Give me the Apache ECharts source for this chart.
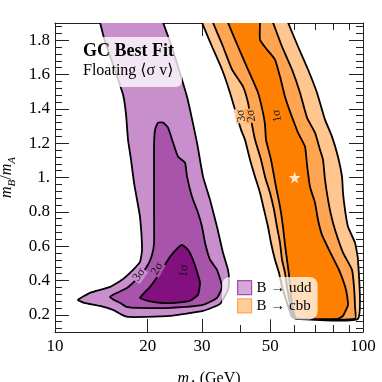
<!DOCTYPE html>
<html><head><meta charset="utf-8">
<script src="https://cdn.jsdelivr.net/npm/echarts@6/dist/echarts.min.js"></script>
<style>html,body{margin:0;padding:0;background:#fff}#c{width:382px;height:382px}</style>
</head><body><div id="c"></div>
<script>
// ---- tick labels ----
const xTickLabels = [10, 20, 30, 50, 100];
const xMajorTicks = [20, 30, 50];
const xMinorTicks = [40, 60, 70, 80, 90];
const yTickLabels = [0.2, 0.4, 0.6, 0.8, 1.0, 1.2, 1.4, 1.6, 1.8];
const yMinorTicks = [0.12,0.16,0.24,0.28,0.32,0.36,0.44,0.48,0.52,0.56,0.64,0.68,0.72,0.76,0.84,0.88,0.92,0.96,1.04,1.08,1.12,1.16,1.24,1.28,1.32,1.36,1.44,1.48,1.52,1.56,1.64,1.68,1.72,1.76,1.84,1.88];

// ---- contours: [m_A (GeV), m_B/m_A] ----
const udd3sigma = [[13.79,1.949],[14.00,1.903],[14.53,1.792],[15.43,1.658],[16.63,1.483],[17.01,1.366],[17.26,1.220],[17.65,1.104],[18.05,0.970],[18.46,0.871],[18.88,0.771],[19.17,0.579],[18.88,0.509],[17.92,0.462],[16.51,0.404],[15.09,0.363],[12.99,0.328],[11.88,0.287],[12.43,0.270],[14.00,0.252],[15.43,0.229],[16.51,0.200],[17.26,0.188],[19.60,0.188],[23.63,0.194],[30.24,0.223],[34.33,0.264],[36.45,0.346],[36.72,0.404],[36.45,0.462],[35.11,0.562],[33.57,0.713],[31.86,0.871],[30.24,1.005],[28.91,1.203],[27.44,1.395],[26.83,1.471],[25.84,1.570],[23.99,1.757],[22.43,1.903],[21.93,1.949]];
const udd2sigma = [[21.60,1.320],[21.13,1.279],[20.97,1.191],[20.97,1.005],[20.97,0.812],[20.97,0.620],[20.66,0.550],[20.04,0.492],[18.88,0.427],[17.13,0.357],[15.43,0.317],[15.09,0.305],[15.55,0.287],[16.26,0.270],[17.01,0.247],[18.88,0.241],[23.63,0.241],[30.24,0.258],[33.57,0.299],[34.85,0.363],[33.57,0.462],[31.86,0.521],[30.70,0.620],[30.02,0.713],[29.13,0.795],[27.85,0.888],[26.83,1.005],[26.43,1.086],[25.09,1.121],[24.17,1.203],[23.28,1.290],[22.43,1.320]];
const udd1sigma = [[25.84,0.608],[27.03,0.579],[28.06,0.521],[28.91,0.451],[29.57,0.387],[29.13,0.317],[27.44,0.282],[24.53,0.270],[21.93,0.270],[20.04,0.282],[18.88,0.299],[20.35,0.363],[21.93,0.445],[23.63,0.538],[25.09,0.591]];
const cbb3sigma = [[29.57,1.949],[30.02,1.903],[32.34,1.763],[34.85,1.629],[37.00,1.494],[38.99,1.355],[40.17,1.279],[41.39,1.220],[42.97,1.104],[44.61,1.005],[46.30,0.911],[47.71,0.812],[49.15,0.713],[50.26,0.620],[51.79,0.521],[53.36,0.445],[54.58,0.363],[56.66,0.270],[58.81,0.188],[60.60,0.177],[96.32,0.177],[96.32,0.521],[94.19,0.620],[89.39,0.713],[87.41,0.812],[86.11,0.911],[85.47,1.005],[82.94,1.121],[79.31,1.238],[75.27,1.337],[70.89,1.494],[66.29,1.629],[61.51,1.763],[57.08,1.903],[55.82,1.949]];
const cbb2sigma = [[32.10,1.949],[32.58,1.903],[35.11,1.763],[37.56,1.629],[40.78,1.529],[42.33,1.436],[43.29,1.337],[44.61,1.220],[46.65,1.104],[48.06,1.005],[49.89,0.911],[51.41,0.812],[52.57,0.713],[53.77,0.620],[54.58,0.521],[55.82,0.445],[56.66,0.363],[57.94,0.270],[59.26,0.188],[60.60,0.177],[94.19,0.177],[94.19,0.247],[93.49,0.363],[92.10,0.462],[86.11,0.562],[81.11,0.696],[78.72,0.783],[76.98,0.871],[75.27,0.987],[74.16,1.104],[72.51,1.162],[69.84,1.261],[65.79,1.349],[62.44,1.494],[58.81,1.629],[54.58,1.763],[51.02,1.903],[49.89,1.949]];
const cbb1sigma = [[35.91,1.949],[36.45,1.903],[39.28,1.763],[42.33,1.629],[45.62,1.494],[47.35,1.378],[48.06,1.308],[48.43,1.220],[50.26,1.104],[52.18,0.946],[53.77,0.830],[54.99,0.713],[55.82,0.608],[56.66,0.521],[57.51,0.433],[57.94,0.363],[58.81,0.270],[60.15,0.188],[61.05,0.177],[82.94,0.177],[86.11,0.194],[89.39,0.258],[88.07,0.346],[83.57,0.462],[78.13,0.567],[73.60,0.666],[71.42,0.754],[69.84,0.853],[67.28,0.946],[65.79,1.075],[64.82,1.180],[61.51,1.261],[59.26,1.337],[57.94,1.384],[55.82,1.471],[53.77,1.588],[51.79,1.687],[48.79,1.745],[46.30,1.803],[46.30,1.903],[46.30,1.949]];
const bestFit = [[60, 1.0]];

// contour labels
const contourLabelText = ['3σ', '2σ', '1σ', '3σ', '2σ', '1σ'];
const contourLabelMA   = [18.74, 21.44, 26.23, 40.17, 43.29, 52.58];
const contourLabelR    = [0.433, 0.468, 0.457, 1.360, 1.360, 1.360];
const contourLabelRot  = [55, 60, 85, 100, 100, 100];
const contourLabelBg   = ['#c98fcd', '#a854aa', null, '#ffc690', '#ffa552', null];

const L = v => Math.log10(v);
const SERIF = 'Liberation Serif, Times New Roman, DejaVu Serif, serif';
const LINE = '#222';

function polySeries(name, pts, fill, z) {
  return {
    type: 'custom', name: name, clip: true, z: z, silent: true,
    xAxisIndex: 0, yAxisIndex: 0,
    data: [[L(pts[0][0]), pts[0][1]]],
    itemStyle: { color: fill },
    renderItem: function (params, api) {
      return {
        type: 'polygon',
        shape: { points: pts.map(p => api.coord([L(p[0]), p[1]])), smooth: 0.15 },
        style: { fill: fill, stroke: '#000', lineWidth: 1.8, lineJoin: 'round' }
      };
    }
  };
}

function xAx(grid, pos, ticks, len, opts) {
  return Object.assign({
    type: 'value', gridIndex: grid, position: pos, min: 1, max: 2,
    splitLine: { show: false },
    axisLine: { show: false },
    axisLabel: { show: false },
    axisTick: { show: true, inside: true, length: len, customValues: ticks.map(L), lineStyle: { color: LINE, width: 1 } }
  }, opts || {});
}
function yAx(grid, pos, ticks, len, opts) {
  return Object.assign({
    type: 'value', gridIndex: grid, position: pos, min: 0.1, max: 1.9,
    splitLine: { show: false },
    axisLine: { show: false },
    axisLabel: { show: false },
    axisTick: { show: true, inside: true, length: len, customValues: ticks, lineStyle: { color: LINE, width: 1 } }
  }, opts || {});
}

const axisLineOn = { show: true, onZero: false, lineStyle: { color: LINE, width: 1 } };
const richName = {
  i: { fontFamily: SERIF, fontStyle: 'italic', fontSize: 16, lineHeight: 22, verticalAlign: 'middle', color: '#000' },
  s: { fontFamily: SERIF, fontStyle: 'italic', fontSize: 11, lineHeight: 12, verticalAlign: 'bottom', color: '#000' },
  n: { fontFamily: SERIF, fontSize: 16, lineHeight: 22, verticalAlign: 'middle', color: '#000' }
};
const gridBox = { left: 55, right: 19, top: 23, bottom: 50, containLabel: false, outerBoundsMode: 'none' };

const chart = echarts.init(document.getElementById('c'), null, { renderer: 'canvas' });
chart.setOption({
  animation: false,
  backgroundColor: '#fff',
  grid: [Object.assign({}, gridBox), Object.assign({}, gridBox)],
  title: {
    text: 'GC Best Fit', subtext: 'Floating ⟨σ v⟩',
    left: 70, top: 37, padding: [5, 8, 8, 13], itemGap: 3,
    backgroundColor: 'rgba(255,255,255,0.78)', borderRadius: 6,
    textStyle: { fontFamily: SERIF, fontSize: 18, fontWeight: 'bold', color: '#000' },
    subtextStyle: { fontFamily: SERIF, fontSize: 16, color: '#000' }
  },
  legend: {
    orient: 'vertical', left: 222, top: 277, padding: [3, 6, 6, 15], itemGap: 3,
    itemWidth: 14, itemHeight: 14, selectedMode: false,
    backgroundColor: 'rgba(255,255,255,0.75)', borderRadius: 8,
    textStyle: { fontFamily: SERIF, fontSize: 15, color: '#000' },
    data: [
      { name: 'B → udd', icon: 'rect', itemStyle: { color: '#d6a8da', borderColor: '#a052a8', borderWidth: 1.2 } },
      { name: 'B → cbb', icon: 'rect', itemStyle: { color: '#ffcc99', borderColor: '#ffa655', borderWidth: 1.2 } }
    ]
  },
  xAxis: [
    xAx(0, 'bottom', xMajorTicks, 13, {
      axisLine: axisLineOn,
      axisLabel: { show: true, customValues: xTickLabels.map(L), formatter: v => String(Math.round(Math.pow(10, v))), fontFamily: SERIF, fontSize: 17, color: '#000', margin: 6 },
      name: '{i|m}{s|A}{n| (GeV)}', nameLocation: 'middle', nameGap: 36,
      nameTextStyle: { rich: richName }
    }),
    xAx(0, 'top', xMajorTicks, 13, { axisLine: axisLineOn }),
    xAx(1, 'bottom', xMinorTicks, 7),
    xAx(1, 'top', xMinorTicks, 7)
  ],
  yAxis: [
    yAx(0, 'left', yTickLabels, 14, {
      axisLine: axisLineOn,
      axisLabel: { show: true, customValues: yTickLabels, formatter: v => (Math.abs(v - 1) < 1e-9 ? '1.' : v.toFixed(1)), fontFamily: SERIF, fontSize: 17, color: '#000', margin: 5 },
      name: '{i|m}{s|B}{n|/}{i|m}{s|A}', nameLocation: 'middle', nameGap: 37,
      nameTextStyle: { rich: richName }
    }),
    yAx(0, 'right', yTickLabels, 14, { axisLine: axisLineOn }),
    yAx(1, 'left', yMinorTicks, 7),
    yAx(1, 'right', yMinorTicks, 7)
  ],
  series: [
    polySeries('B → udd', udd3sigma, '#c98fcd', 2),
    polySeries('udd 2σ', udd2sigma, '#a854aa', 2),
    polySeries('udd 1σ', udd1sigma, '#82107f', 2),
    polySeries('B → cbb', cbb3sigma, '#ffc690', 2),
    polySeries('cbb 2σ', cbb2sigma, '#ffa552', 2),
    polySeries('cbb 1σ', cbb1sigma, '#ff8000', 2),
    {
      type: 'custom', name: 'labels', z: 3, silent: true, clip: true,
      xAxisIndex: 0, yAxisIndex: 0,
      data: contourLabelMA.map((m, i) => [L(m), contourLabelR[i]]),
      renderItem: function (params, api) {
        const i = params.dataIndex;
        const pt = api.coord([api.value(0), api.value(1)]);
        const st = { text: contourLabelText[i], fill: '#111', font: '12px ' + SERIF, align: 'center', verticalAlign: 'middle' };
        if (contourLabelBg[i]) { st.backgroundColor = contourLabelBg[i]; st.padding = [0, 1]; }
        return { type: 'text', x: pt[0], y: pt[1], rotation: contourLabelRot[i] * Math.PI / 180, style: st };
      }
    },
    {
      type: 'scatter', name: 'best fit', z: 4, silent: true,
      xAxisIndex: 0, yAxisIndex: 0,
      data: bestFit.map(p => [L(p[0]), p[1]]),
      symbol: 'path://M50,0 L61,35 L98,35 L68,57 L79,91 L50,70 L21,91 L32,57 L2,35 L39,35 Z',
      symbolSize: 12, itemStyle: { color: '#ffffff' }
    }
  ]
});
</script>
</body></html>
